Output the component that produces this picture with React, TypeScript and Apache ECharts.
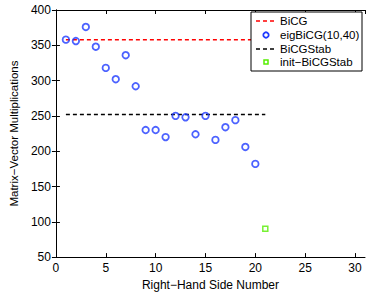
import React, { useEffect, useRef } from "react";
import * as echarts from "echarts";

const rhsNumbers = [1, 2, 3, 4, 5, 6, 7, 8, 9, 10, 11, 12, 13, 14, 15, 16, 17, 18, 19, 20];
const eigBiCGValues = [358, 356, 376, 348, 318, 302, 336, 292, 230, 230, 220, 250, 248, 224, 250, 216, 234, 244, 206, 182];
const bicgLevel = 358;
const bicgStabLevel = 252;
const lineRange = [1, 21];
const initBiCGStab = [[21, 90]];
const legendLabels = ["BiCG", "eigBiCG(10,40)", "BiCGStab", "init\u2212BiCGStab"];

const FONT = "'Liberation Sans', Arial, Helvetica, sans-serif";
const BLUE = "#1f3bff";
const GREEN = "#55ee00";

export default function App() {
  const ref = useRef<HTMLDivElement>(null);
  useEffect(() => {
    const chart = echarts.init(ref.current!, null, { renderer: "svg" });
    const axisCommon = {
      type: "value" as const,
      axisLine: { show: true, lineStyle: { color: "#000", width: 1 } },
      axisTick: { show: true, inside: true, length: 4, lineStyle: { color: "#000" } },
      splitLine: { show: false },
    };
    const lx = 251, ly = 12, lw = 111, lh = 59;
    const rows = [21, 35, 49, 62];
    const graphics: any[] = [
      { type: "rect", shape: { x: lx, y: ly, width: lw, height: lh }, style: { fill: "#fff", stroke: "#000", lineWidth: 1 }, z: 100 },
      { type: "line", shape: { x1: 256, y1: rows[0], x2: 277, y2: rows[0] }, style: { stroke: "#ff0000", lineWidth: 1.5, lineDash: [4, 3] }, z: 101 },
      { type: "circle", shape: { cx: 266, cy: rows[1], r: 2.7 }, style: { fill: "none", stroke: BLUE, lineWidth: 1.8 }, z: 101 },
      { type: "line", shape: { x1: 256, y1: rows[2], x2: 277, y2: rows[2] }, style: { stroke: "#000", lineWidth: 1.5, lineDash: [4, 3] }, z: 101 },
      { type: "rect", shape: { x: 264, y: rows[3] - 2, width: 4, height: 4 }, style: { fill: "none", stroke: GREEN, lineWidth: 1.5 }, z: 101 },
    ];
    legendLabels.forEach((t, i) => {
      graphics.push({
        type: "text",
        x: 280,
        y: rows[i],
        style: { text: t, font: `11.5px ${FONT}`, fill: "#000", verticalAlign: "middle" },
        z: 101,
      });
    });
    chart.setOption({
      animation: false,
      backgroundColor: "#fff",
      textStyle: { fontFamily: FONT },
      grid: { left: 40, right: 6, top: 10, bottom: 30, containLabel: false },
      xAxis: [
        {
          ...axisCommon,
          position: "bottom",
          min: 0,
          max: 31,
          interval: 5,
          axisLabel: { show: true, color: "#000", fontSize: 12, fontFamily: FONT, margin: 5, showMaxLabel: false },
          name: "Right\u2212Hand Side Number",
          nameLocation: "middle",
          nameGap: 17,
          nameTextStyle: { color: "#000", fontSize: 12, fontFamily: FONT },
        },
        {
          ...axisCommon,
          position: "top",
          min: 0,
          max: 31,
          interval: 5,
          axisLabel: { show: false },
        },
      ],
      yAxis: [
        {
          ...axisCommon,
          position: "left",
          min: 50,
          max: 400,
          interval: 50,
          axisLabel: { show: true, color: "#000", fontSize: 12, fontFamily: FONT, margin: 5 },
          name: "Matrix\u2212Vector Multiplications",
          nameLocation: "middle",
          nameGap: 29,
          nameTextStyle: { color: "#000", fontSize: 11.5, fontFamily: FONT },
        },
        {
          ...axisCommon,
          position: "right",
          min: 50,
          max: 400,
          interval: 50,
          axisLabel: { show: false },
        },
      ],
      series: [
        {
          type: "line",
          data: lineRange.map((x) => [x, bicgLevel]),
          symbol: "none",
          lineStyle: { color: "#ff0000", width: 1.5, type: [4, 3] },
          z: 2,
        },
        {
          type: "line",
          data: lineRange.map((x) => [x, bicgStabLevel]),
          symbol: "none",
          lineStyle: { color: "#000", width: 1.5, type: [4, 3] },
          z: 2,
        },
        {
          type: "scatter",
          data: rhsNumbers.map((x, i) => [x, eigBiCGValues[i]]),
          symbol: "circle",
          symbolSize: 6.5,
          itemStyle: { color: "transparent", borderColor: BLUE, borderWidth: 1.8 },
          z: 3,
        },
        {
          type: "scatter",
          data: initBiCGStab,
          symbol: "rect",
          symbolSize: 5,
          itemStyle: { color: "transparent", borderColor: GREEN, borderWidth: 1.5 },
          z: 3,
        },
      ],
      graphic: graphics,
    });
    return () => chart.dispose();
  }, []);
  return <div ref={ref} style={{ width: 371, height: 296, position: "absolute", left: 0, top: 0 }} />;
}
